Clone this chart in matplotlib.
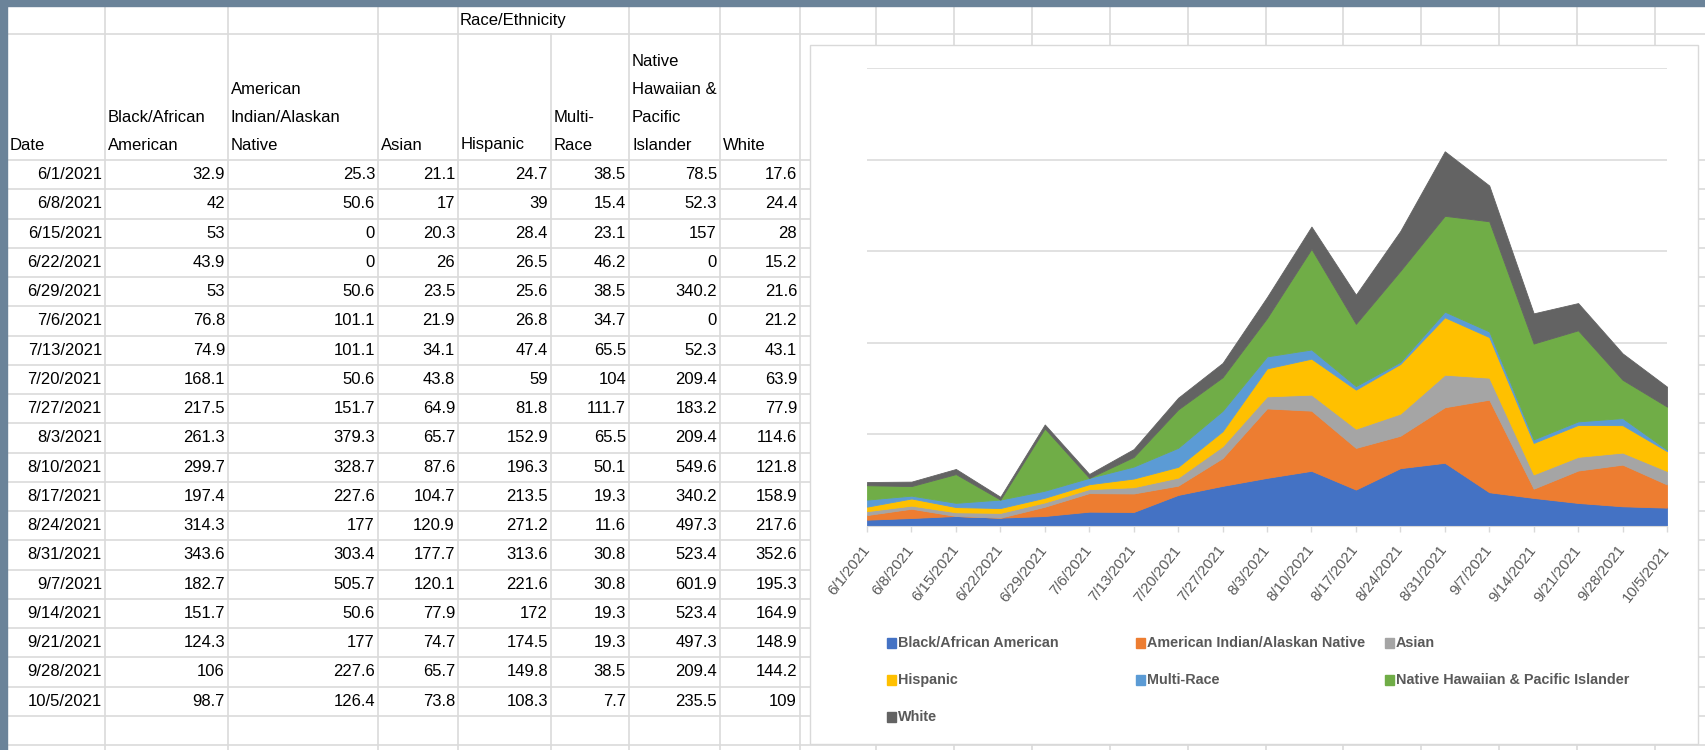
import matplotlib
matplotlib.use("Agg")
import matplotlib.pyplot as plt
from matplotlib.patches import Rectangle

# weekly rates by race/ethnicity
dates = ["6/1/2021", "6/8/2021", "6/15/2021", "6/22/2021", "6/29/2021", "7/6/2021",
         "7/13/2021", "7/20/2021", "7/27/2021", "8/3/2021", "8/10/2021", "8/17/2021",
         "8/24/2021", "8/31/2021", "9/7/2021", "9/14/2021", "9/21/2021", "9/28/2021",
         "10/5/2021"]
black = [32.9, 42, 53, 43.9, 53, 76.8, 74.9, 168.1, 217.5, 261.3, 299.7, 197.4, 314.3,
         343.6, 182.7, 151.7, 124.3, 106, 98.7]
am_indian = [25.3, 50.6, 0, 0, 50.6, 101.1, 101.1, 50.6, 151.7, 379.3, 328.7, 227.6, 177,
             303.4, 505.7, 50.6, 177, 227.6, 126.4]
asian = [21.1, 17, 20.3, 26, 23.5, 21.9, 34.1, 43.8, 64.9, 65.7, 87.6, 104.7, 120.9,
         177.7, 120.1, 77.9, 74.7, 65.7, 73.8]
hispanic = [24.7, 39, 28.4, 26.5, 25.6, 26.8, 47.4, 59, 81.8, 152.9, 196.3, 213.5, 271.2,
            313.6, 221.6, 172, 174.5, 149.8, 108.3]
multi = [38.5, 15.4, 23.1, 46.2, 38.5, 34.7, 65.5, 104, 111.7, 65.5, 50.1, 19.3, 11.6,
         30.8, 30.8, 19.3, 19.3, 38.5, 7.7]
nhpi = [78.5, 52.3, 157, 0, 340.2, 0, 52.3, 209.4, 183.2, 209.4, 549.6, 340.2, 497.3,
        523.4, 601.9, 523.4, 497.3, 209.4, 235.5]
white = [17.6, 24.4, 28, 15.2, 21.6, 21.2, 43.1, 63.9, 77.9, 114.6, 121.8, 158.9, 217.6,
         352.6, 195.3, 164.9, 148.9, 144.2, 109]

series = [black, am_indian, asian, hispanic, multi, nhpi, white]
series_names = ["Black/African American", "American Indian/Alaskan Native", "Asian",
                "Hispanic", "Multi-Race", "Native Hawaiian & Pacific Islander", "White"]
table_headers = ["Date", "Black/African\nAmerican", "American\nIndian/Alaskan\nNative",
                 "Asian", "Hispanic", "Multi-\nRace", "Native\nHawaiian &\nPacific\nIslander",
                 "White"]
colors = ["#4472C4", "#ED7D31", "#A5A5A5", "#FFC000", "#5B9BD5", "#70AD47", "#636363"]

W, H = 1705, 750
GRID = "#DADADA"
FONT = ["Liberation Sans", "DejaVu Sans"]

fig = plt.figure(figsize=(W / 100, H / 100), dpi=100)
sheet = fig.add_axes([0, 0, 1, 1])
sheet.set_xlim(0, W)
sheet.set_ylim(H, 0)
sheet.axis("off")

# spreadsheet grid
col_edges = [7, 105, 228, 378, 458, 551, 629, 720, 800, 876, 954, 1032, 1110, 1188,
             1266, 1343, 1421, 1499, 1577, 1655, 1733]
row_h = 29.25
row_edges = [6, 34, 160] + [160 + row_h * k for k in range(1, 21)]
for y in row_edges[1:]:
    sheet.plot([7, W], [y, y], color=GRID, lw=1.2, zorder=1)
for x in col_edges[1:]:
    top = 34 if x == 551 else 6   # "Race/Ethnicity" spills over this border
    sheet.plot([x, x], [top, H], color=GRID, lw=1.2, zorder=1)

sheet.add_patch(Rectangle((0, 0), W, 6, color="#6B8399", zorder=5))
sheet.add_patch(Rectangle((0, 0), 7, H, color="#6B8399", zorder=5))

# table text
sheet.text(460, 20, "Race/Ethnicity", fontsize=12, family=FONT,
           va="center", ha="left", zorder=4)
for c, head in enumerate(table_headers):
    lines = head.split("\n")
    for k, line in enumerate(reversed(lines)):
        sheet.text(col_edges[c] + 3, 145 - 28 * k, line, fontsize=12, family=FONT,
                   va="center", ha="left", zorder=4)

for r, d in enumerate(dates):
    yc = 160 + row_h * (r + 0.5)
    sheet.text(col_edges[1] - 3, yc, d, fontsize=12, family=FONT,
               va="center", ha="right", zorder=4)
    for c, s in enumerate(series):
        sheet.text(col_edges[c + 2] - 3, yc, f"{s[r]:g}", fontsize=12, family=FONT,
                   va="center", ha="right", zorder=4)

# chart frame
sheet.add_patch(Rectangle((810, 45), 888, 699, facecolor="white", edgecolor="#D9D9D9",
                          lw=1.0, zorder=3))

# legend, laid out row by row like Excel
leg_x = [887, 1136, 1385]
leg_y = [643, 680, 717]
for i, name in enumerate(series_names):
    x0, y0 = leg_x[i % 3], leg_y[i // 3]
    sheet.add_patch(Rectangle((x0, y0 - 5), 9, 10, color=colors[i], zorder=4))
    sheet.text(x0 + 11, y0, name, fontsize=10.4, family=FONT, weight="bold",
               color="#595959", va="center", ha="left", zorder=4)

# stacked area chart
base_y, top_y = 525.7, 68
ax = fig.add_axes([867 / W, (H - base_y) / H, 800 / W, (base_y - top_y) / H])
ax.set_facecolor("none")
xs = list(range(len(dates)))
polys = ax.stackplot(xs, *series, colors=colors, linewidth=0.6)
for p, col in zip(polys, colors):
    p.set_edgecolor(col)

ax.set_xlim(0, len(dates) - 1)
ax.set_ylim(0, 2500)
ax.set_yticks(range(0, 2501, 500))
ax.yaxis.set_tick_params(length=0, labelleft=False)
ax.grid(axis="y", color="#D9D9D9", lw=1.1)
ax.set_axisbelow(True)
ax.set_xticks(xs)
ax.set_xticklabels(dates, rotation=52, ha="right", va="center", rotation_mode="anchor",
                   fontsize=10.8, family=FONT, color="#595959")
ax.tick_params(axis="x", length=4.5, color="#D9D9D9", width=1, pad=11)
for side in ["top", "right", "left"]:
    ax.spines[side].set_visible(False)
ax.spines["bottom"].set_color("#D9D9D9")

fig.savefig("out.png", dpi=100)
